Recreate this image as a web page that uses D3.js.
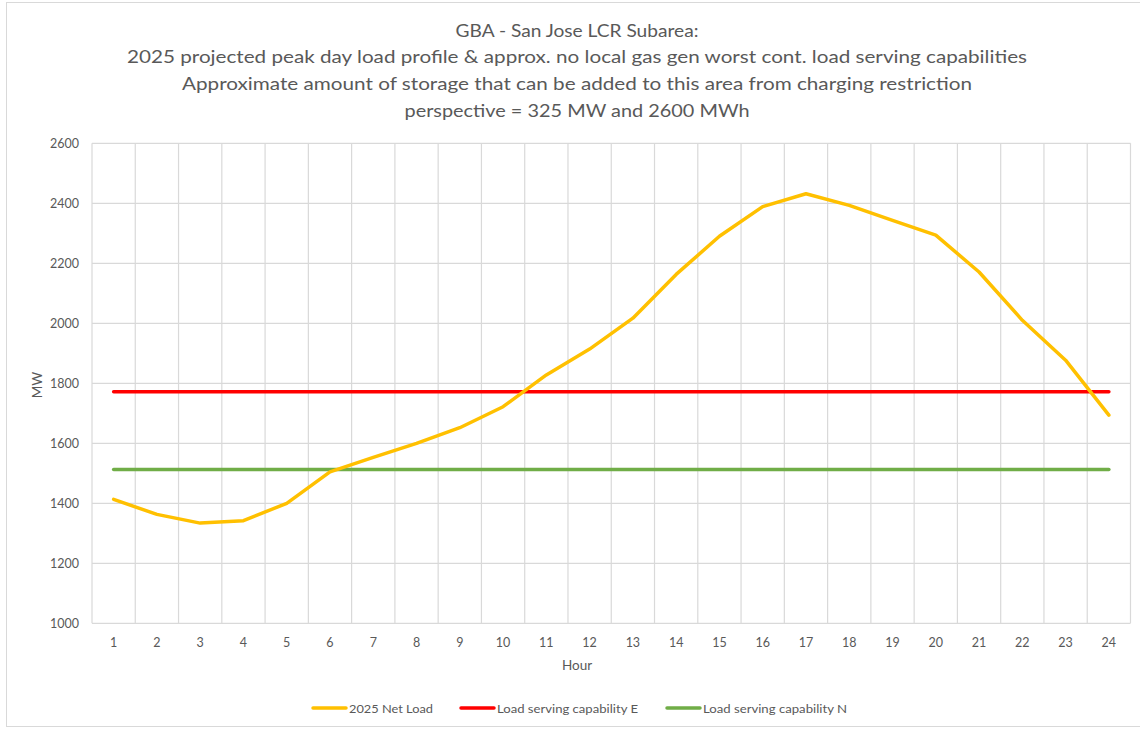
<!DOCTYPE html>
<html><head><meta charset="utf-8">
<script src="https://cdn.jsdelivr.net/npm/d3@7"></script>
<style>body{margin:0;background:#fff;}svg{display:block;font-family:Lato,"Open Sans",sans-serif;}</style>
</head><body><svg id="c" width="1140" height="729"></svg>
<script>
const hours = [1,2,3,4,5,6,7,8,9,10,11,12,13,14,15,16,17,18,19,20,21,22,23,24];
const netLoad = [1413,1363,1334,1342,1400,1505,1553,1600,1652,1722,1828,1914,2017,2163,2290,2389,2432,2393,2343,2294,2171,2010,1877,1694];
const capE = hours.map(() => 1772);
const capN = hours.map(() => 1513);
const yTicks = [1000,1200,1400,1600,1800,2000,2200,2400,2600];
const titleLines = [
  "GBA - San Jose LCR Subarea:",
  "2025 projected peak day load profile & approx. no local gas gen worst cont. load serving capabilities",
  "Approximate amount of storage that can be added to this area from charging restriction",
  "perspective = 325 MW and 2600 MWh"
];
const seriesNames = ["2025 Net Load","Load serving capability E","Load serving capability N"];
const colors = ["#FFC000","#FF0000","#70AD47"];

const svg = d3.select("#c");
svg.append("rect").attr("x",6.5).attr("y",2.5).attr("width",1140).attr("height",724)
  .attr("fill","#fff").attr("stroke","#d9d9d9");

const L=92, R=1130.5, T=143.3, B=623.3;
const x = d3.scaleBand().domain(hours).range([L,R]);
const y = d3.scaleLinear().domain([1000,2600]).range([B,T]);
const cx = h => x(h)+x.bandwidth()/2;

// title
const tW = [243,900,790,345];
const tY = [37,63,90,117];
titleLines.forEach((t,i)=>{
  svg.append("text").attr("x",577).attr("y",tY[i]).attr("text-anchor","middle")
    .attr("font-size",18).attr("fill","#595959")
    .attr("textLength",tW[i]).attr("lengthAdjust","spacingAndGlyphs").text(t);
});

// gridlines
const g = svg.append("g");
g.selectAll("line.h").data(yTicks).join("line")
  .attr("x1",L).attr("x2",R).attr("y1",d=>y(d)).attr("y2",d=>y(d))
  .attr("stroke","#d9d9d9").attr("stroke-width",1.2);
const bounds = hours.map(h=>x(h)).concat([R]);
g.selectAll("line.v").data(bounds).join("line")
  .attr("x1",d=>d).attr("x2",d=>d).attr("y1",T).attr("y2",B)
  .attr("stroke","#d9d9d9").attr("stroke-width",1.2);

// axes labels
svg.append("g").selectAll("text").data(yTicks).join("text")
  .attr("x",79).attr("y",d=>y(d)+4.5).attr("text-anchor","end")
  .attr("font-size",12.5).attr("fill","#595959").text(d=>d);
svg.append("g").selectAll("text").data(hours).join("text")
  .attr("x",d=>cx(d)).attr("y",647).attr("text-anchor","middle")
  .attr("font-size",12.5).attr("fill","#595959").text(d=>d);
svg.append("text").attr("x",577).attr("y",670).attr("text-anchor","middle")
  .attr("font-size",13.5).attr("fill","#595959").text("Hour");
svg.append("text").attr("transform","translate(42,385) rotate(-90)").attr("text-anchor","middle")
  .attr("font-size",13.5).attr("fill","#595959").text("MW");

// series
const line = d3.line().x((d,i)=>cx(hours[i])).y(d=>y(d));
[capE,capN,netLoad].forEach((s,k)=>{
  const ci = [1,2,0][k];
  svg.append("path").datum(s).attr("d",line).attr("fill","none")
    .attr("stroke",colors[ci]).attr("stroke-width",3.5).attr("stroke-linejoin","round").attr("stroke-linecap","round");
});

// legend
const lx = [313,461,667];
const tw = [84,141,144];
seriesNames.forEach((n,i)=>{
  svg.append("line").attr("x1",lx[i]).attr("x2",lx[i]+33).attr("y1",708).attr("y2",708)
    .attr("stroke",colors[i]).attr("stroke-width",3.5).attr("stroke-linecap","round");
  svg.append("text").attr("x",lx[i]+36).attr("y",712.5).attr("font-size",12)
    .attr("fill","#595959").attr("textLength",tw[i]).attr("lengthAdjust","spacingAndGlyphs").text(n);
});
</script></body></html>
